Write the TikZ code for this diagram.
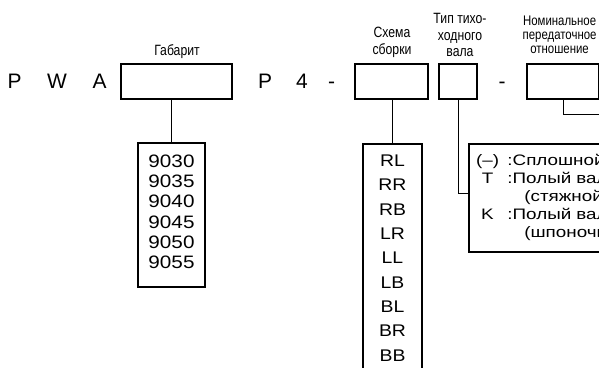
\documentclass[tikz,border=0pt]{standalone}
\usepackage{fontspec}
\setmainfont{Liberation Sans}
\newfontfamily\narrowfont[FakeStretch=0.82]{Liberation Sans}
\newfontfamily\widefont[FakeStretch=1.15]{Liberation Sans}
\newfontfamily\legendfont[FakeStretch=1.24]{Liberation Sans}
\usetikzlibrary{positioning}

\begin{document}
\begin{tikzpicture}[
  letter/.style={anchor=base, inner sep=0pt, font=\fontsize{14.9}{16}\selectfont},
  field/.style={draw, line width=1.4pt, minimum height=0.875cm, inner sep=0pt},
  caption/.style={align=center, inner sep=0pt, font=\narrowfont\fontsize{10.6}{12}\selectfont},
  listbox/.style={draw, line width=1.4pt, anchor=north, align=center},
  conn/.style={line width=0.7pt}
]
\useasboundingbox (0,0) rectangle (14.975,9.175);
\clip (0,0) rectangle (14.975,9.175);

% Code letters
\node[letter] (p1) at (0.3625,6.95) {P};
\node[letter] (w1) at (1.425,6.95) {W};
\node[letter] (a1) at (2.4875,6.95) {A};
\node[letter] (p2) at (6.625,6.95) {P};
\node[letter] (n4) at (7.55,6.95) {4};
\node[letter] (d1) at (8.2875,6.95) {-};
\node[letter] (d2) at (12.55,6.95) {-};

% Fields
\node[field, minimum width=2.775cm] (gab) at (4.4125,7.1375) {};
\node[field, minimum width=1.825cm] (shema) at (9.7875,7.1375) {};
\node[field, minimum width=0.95cm] (tip) at (11.45,7.1375) {};
\node[field, minimum width=1.8cm] (ratio) at (14.075,7.1375) {};

% Captions
\node[caption] (gabcap) at (4.425,7.875) {Габарит};
\node[caption] (shemacap) at (9.8,8.125) {Схема\\сборки};
\node[caption] (tipcap) at (11.5,8.3) {Тип тихо-\\ходного\\вала};
\node[caption, font=\narrowfont\fontsize{9.9}{9.9}\selectfont] (ratiocap) at (13.99,8.3)
  {Номинальное\\передаточное\\отношение};

% Lists of values
\node[listbox, minimum width=1.675cm, inner ysep=8.2pt, text depth=4.9pt,
  font=\widefont\fontsize{12.8}{14.5}\selectfont] (sizes) at (4.2875,5.625)
  {9030\\9035\\9040\\9045\\9050\\9055};
\node[listbox, minimum width=1.475cm, inner ysep=7.8pt, text depth=20pt,
  font=\widefont\fontsize{12}{17.3}\selectfont] (schemes) at (9.8125,5.6)
  {RL\\RR\\RB\\LR\\LL\\LB\\BL\\BR\\BB};
\node[draw, line width=1.4pt, anchor=north west, minimum height=2.7cm,
  text width=3.8cm, inner xsep=5pt, align=left,
  font=\legendfont\fontsize{10.8}{12.9}\selectfont] (shaft) at (11.7,5.6)
  {\begin{tabular}{@{}c@{\hspace{6pt}}l@{}}
   (–) & :Сплошной\\
   T & :Полый вал\\
     & \hspace{12pt}(стяжной\\
   K & :Полый вал\\
     & \hspace{12pt}(шпоночн
   \end{tabular}};
\coordinate (ratend) at (14.975,6.325);

% Connectors
\draw[conn] (sizes.north) -- (sizes.north |- gab.south);
\draw[conn] (schemes.north) -- (schemes.north |- shema.south);
\draw[conn] (tip.south) |- ([yshift=0.1cm]shaft.west);
\draw[conn] (ratio.south) |- (ratend);
\end{tikzpicture}
\end{document}
